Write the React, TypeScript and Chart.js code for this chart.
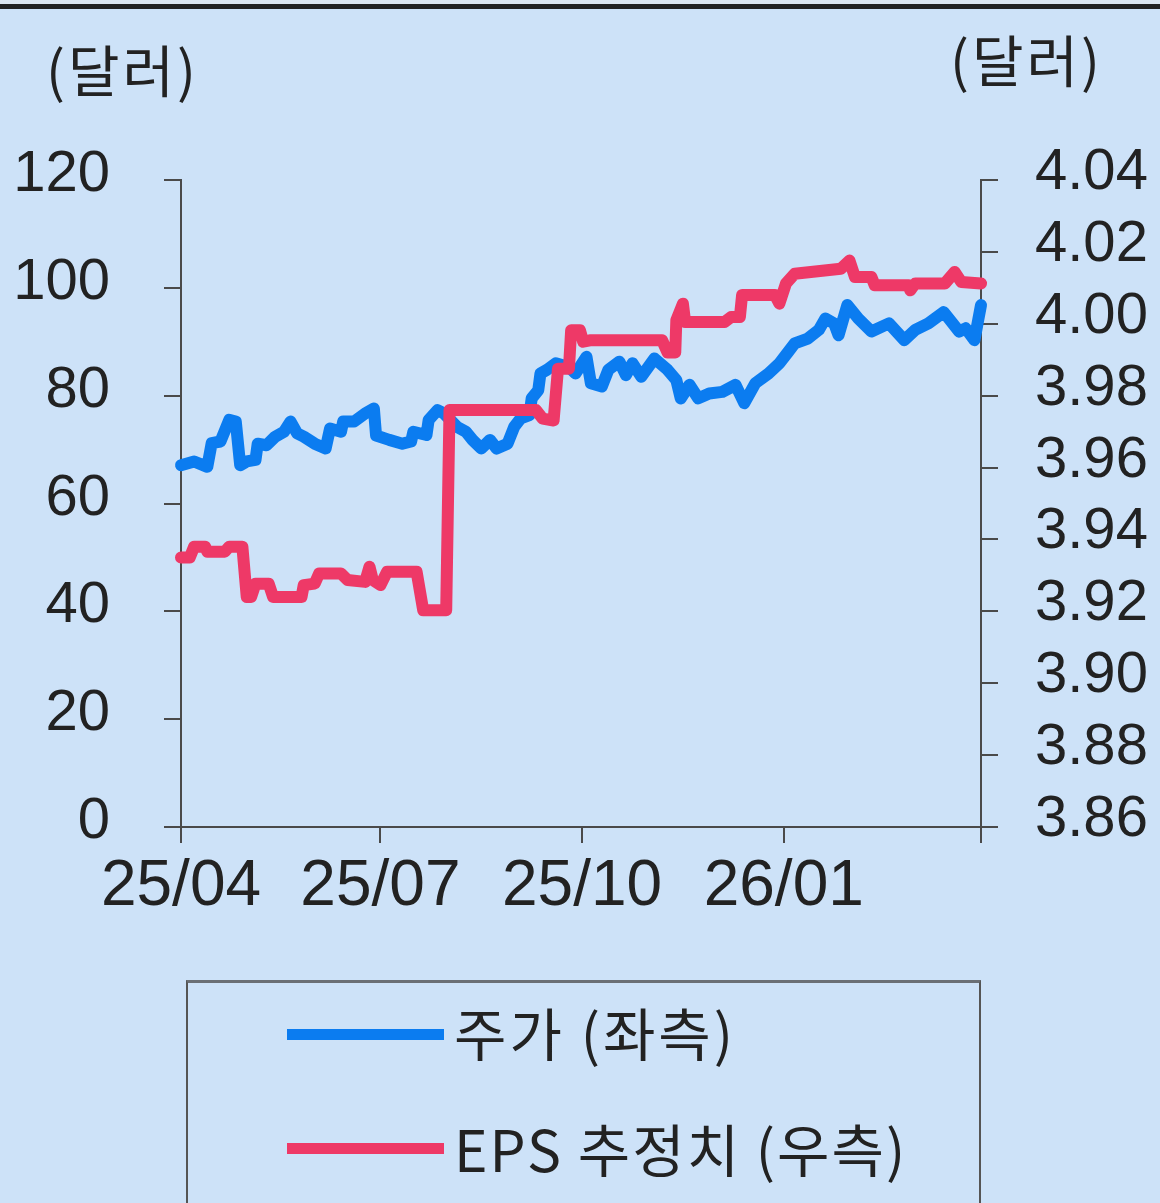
import React, { useEffect, useRef } from 'react';
import { Chart, registerables } from 'chart.js';

Chart.register(...registerables);

// x axis: days since 2025-04-01
const X_TICKS = [0, 91, 183, 275, 365];
const X_LABELS = ['25/04', '25/07', '25/10', '26/01', ''];
const LEFT_TICKS = [0, 20, 40, 60, 80, 100, 120];
const RIGHT_TICKS = [3.86, 3.88, 3.9, 3.92, 3.94, 3.96, 3.98, 4.0, 4.02, 4.04];

const PRICE_DAYS = [0, 6, 12, 14, 18, 22, 25, 27, 30, 34, 35, 39, 43, 47, 50, 53, 56, 61, 66, 68, 73, 74, 79, 84, 88, 89, 95, 101, 105, 106, 112, 113, 117, 120, 126, 130, 133, 137, 141, 144, 149, 152, 155, 159, 160, 163, 164, 167, 171, 177, 180, 185, 187, 192, 195, 200, 203, 206, 210, 216, 222, 226, 228, 232, 236, 241, 247, 253, 257, 262, 268, 273, 277, 280, 286, 291, 294, 298, 300, 304, 309, 315, 323, 330, 335, 341, 348, 355, 358, 362, 365];
const PRICE_VALUES = [67.1, 67.8, 66.8, 71.2, 71.5, 75.5, 75.2, 67.1, 67.8, 68.1, 71.1, 70.8, 72.4, 73.3, 75.2, 73.0, 72.4, 71.1, 70.2, 73.9, 73.3, 75.2, 75.2, 76.7, 77.6, 72.6, 71.8, 71.1, 71.5, 73.3, 72.7, 75.5, 77.3, 76.7, 74.2, 73.3, 71.8, 70.2, 71.8, 70.2, 71.1, 74.2, 75.8, 76.4, 79.5, 81.0, 84.1, 84.8, 86.0, 85.3, 84.1, 87.2, 82.3, 81.7, 84.8, 86.3, 83.8, 86.0, 83.5, 86.9, 84.8, 82.9, 79.5, 82.0, 79.5, 80.4, 80.7, 82.0, 78.6, 82.3, 84.1, 86.0, 88.1, 89.7, 90.6, 92.2, 94.3, 93.4, 91.2, 96.8, 94.3, 91.9, 93.4, 90.3, 92.2, 93.4, 95.5, 91.9, 92.5, 90.3, 96.8];

const EPS_DAYS = [0, 4, 6, 11, 12, 20, 22, 28, 30, 32, 34, 40, 42, 55, 56, 61, 63, 73, 76, 84, 86, 87.5, 91, 94, 107.5, 110.5, 121, 122.5, 162, 165, 170, 172, 177, 178, 182, 183.5, 186.5, 219.5, 222, 225.5, 226, 229, 230, 248, 251, 255, 256, 271, 273, 276, 280, 301, 305, 307.5, 315, 316.5, 332, 332.7, 335, 348.5, 353, 356, 365];
const EPS_VALUES = [3.935, 3.935, 3.938, 3.938, 3.9366, 3.9366, 3.938, 3.938, 3.924, 3.924, 3.9277, 3.9277, 3.924, 3.924, 3.9273, 3.9277, 3.9305, 3.9305, 3.9287, 3.9282, 3.9324, 3.9287, 3.9273, 3.931, 3.931, 3.9203, 3.9203, 3.976, 3.976, 3.9736, 3.9731, 3.9875, 3.9875, 3.9982, 3.9982, 3.995, 3.9954, 3.9954, 3.992, 3.992, 4.001, 4.0056, 4.0005, 4.0005, 4.0019, 4.0019, 4.008, 4.008, 4.0056, 4.0112, 4.0139, 4.0153, 4.0176, 4.013, 4.013, 4.0107, 4.0107, 4.0093, 4.0112, 4.0112, 4.0144, 4.0116, 4.0112];

const PRICE_LABEL = '주가 (좌측)';
const EPS_LABEL = 'EPS 추정치 (우측)';
const UNIT_LABEL = '(달러)';

const BG = '#cde2f8';
const BLUE = '#0b7cf0';
const RED = '#ee3967';
const AXIS = '#4a4a4a';
const TEXT = '#222222';
const NUM_FONT = '"Liberation Sans", Arial, sans-serif';
const KR_FONT = '"Noto Sans CJK KR", "Noto Sans", sans-serif';

export default function App() {
  const canvasRef = useRef<HTMLCanvasElement | null>(null);

  useEffect(() => {
    const canvas = canvasRef.current;
    if (!canvas) return;
    const chart = new Chart(canvas, {
      type: 'line',
      data: {
        datasets: [
          {
            label: EPS_LABEL,
            data: EPS_DAYS.map((d, i) => ({ x: d, y: EPS_VALUES[i] })),
            yAxisID: 'y1',
            borderColor: RED,
            borderWidth: 12,
            pointRadius: 0,
            tension: 0,
            borderJoinStyle: 'round',
            borderCapStyle: 'round',
            clip: false,
            order: 0,
          },
          {
            label: PRICE_LABEL,
            data: PRICE_DAYS.map((d, i) => ({ x: d, y: PRICE_VALUES[i] })),
            yAxisID: 'y',
            borderColor: BLUE,
            borderWidth: 12,
            pointRadius: 0,
            tension: 0,
            borderJoinStyle: 'round',
            borderCapStyle: 'round',
            clip: false,
            order: 1,
          },
        ],
      },
      options: {
        responsive: false,
        maintainAspectRatio: false,
        animation: false,
        layout: { padding: { top: 180, left: 0, right: 0, bottom: 0 } },
        plugins: { legend: { display: false }, tooltip: { enabled: false } },
        scales: {
          x: {
            type: 'linear',
            min: 0,
            max: 365,
            afterBuildTicks: (s: any) => {
              s.ticks = X_TICKS.map((v) => ({ value: v }));
            },
            afterFit: (s: any) => {
              s.height = 1203 - 827;
            },
            ticks: {
              autoSkip: false,
              maxRotation: 0,
              minRotation: 0,
              padding: 6,
              color: TEXT,
              font: { family: NUM_FONT, size: 64 },
              callback: (_v: any, i: number) => X_LABELS[i],
            },
            grid: { drawOnChartArea: false, drawTicks: true, tickLength: 16, color: AXIS, lineWidth: 2 },
            border: { display: true, color: AXIS, width: 2 },
          },
          y: {
            position: 'left',
            min: 0,
            max: 120,
            afterBuildTicks: (s: any) => {
              s.ticks = LEFT_TICKS.map((v) => ({ value: v }));
            },
            afterFit: (s: any) => {
              s.width = 181;
            },
            ticks: {
              autoSkip: false,
              padding: 54,
              labelOffset: -5,
              color: TEXT,
              font: { family: NUM_FONT, size: 58 },
              callback: (v: any) => String(v),
            },
            grid: { drawOnChartArea: false, drawTicks: true, tickLength: 17, color: AXIS, lineWidth: 2 },
            border: { display: true, color: AXIS, width: 2 },
          },
          y1: {
            position: 'right',
            min: 3.86,
            max: 4.04,
            afterBuildTicks: (s: any) => {
              s.ticks = RIGHT_TICKS.map((v) => ({ value: v }));
            },
            afterFit: (s: any) => {
              s.width = 1160 - 981;
            },
            ticks: {
              autoSkip: false,
              padding: 37,
              labelOffset: -7,
              color: TEXT,
              font: { family: NUM_FONT, size: 58 },
              callback: (v: any) => Number(v).toFixed(2),
            },
            grid: { drawOnChartArea: false, drawTicks: true, tickLength: 17, color: AXIS, lineWidth: 2 },
            border: { display: true, color: AXIS, width: 2 },
          },
        },
      },
    } as any);
    return () => chart.destroy();
  }, []);

  const legendLine = (color: string, top: number) => (
    <div style={{ position: 'absolute', left: 287, top, width: 157, height: 11, background: color }} />
  );

  const krText = { position: 'absolute' as const, lineHeight: 1, whiteSpace: 'nowrap' as const, letterSpacing: 3 };

  return (
    <div
      style={{
        position: 'absolute',
        left: 0,
        top: 0,
        width: 1160,
        height: 1203,
        overflow: 'hidden',
        background: BG,
        color: TEXT,
        fontFamily: KR_FONT,
      }}
    >
      <div style={{ position: 'absolute', left: 0, top: 0, width: 1160, height: 4, background: '#dce6f0' }} />
      <div style={{ position: 'absolute', left: 0, top: 4, width: 1160, height: 5, background: '#222' }} />
      <canvas
        ref={canvasRef}
        width={1160}
        height={1203}
        style={{ position: 'absolute', left: 0, top: 0, width: 1160, height: 1203 }}
      />
      <div style={{ ...krText, left: 46, top: 40, fontSize: 56 }}>{UNIT_LABEL}</div>
      <div style={{ ...krText, left: 950, top: 30, fontSize: 56 }}>{UNIT_LABEL}</div>
      <div
        style={{
          position: 'absolute',
          left: 186,
          top: 980,
          width: 795,
          height: 260,
          borderTop: '3px solid #6a6f75',
          borderLeft: '2px solid #555',
          borderRight: '2px solid #555',
          boxSizing: 'border-box',
        }}
      />
      {legendLine(BLUE, 1029)}
      {legendLine(RED, 1143)}
      <div style={{ ...krText, left: 454, top: 1003, fontSize: 57 }}>{PRICE_LABEL}</div>
      <div style={{ ...krText, left: 454, top: 1119, fontSize: 57, letterSpacing: 2 }}>{EPS_LABEL}</div>
    </div>
  );
}
